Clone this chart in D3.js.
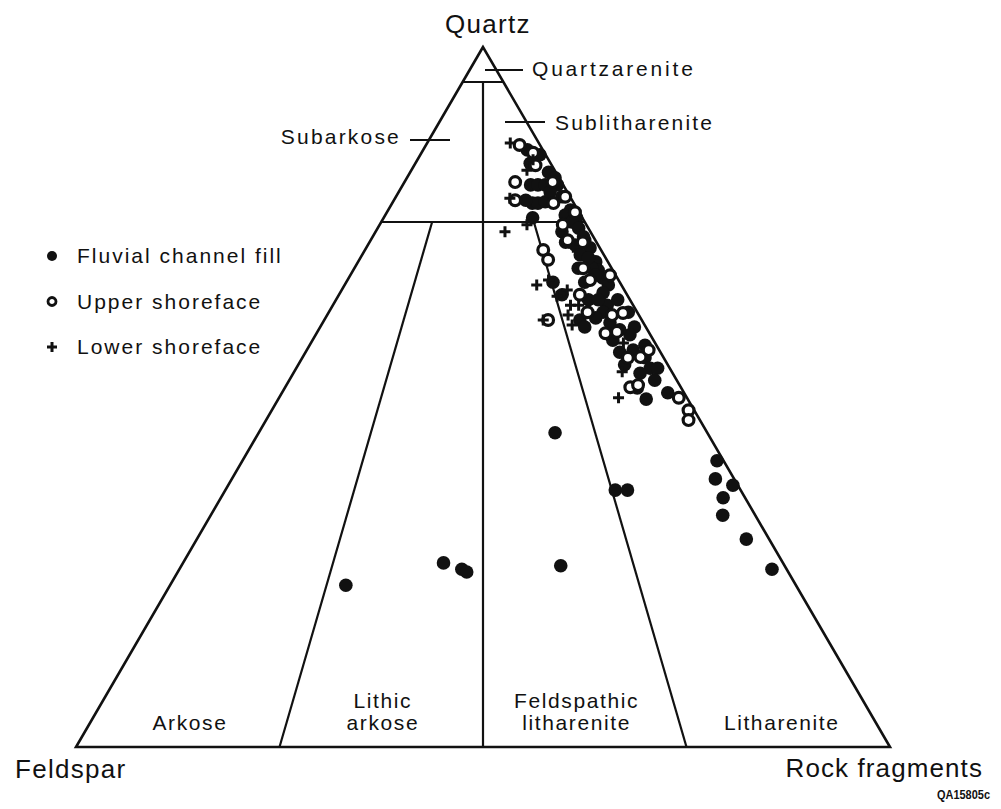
<!DOCTYPE html>
<html>
<head>
<meta charset="utf-8">
<script src="https://cdn.jsdelivr.net/npm/d3@7"></script>
<style>
body{margin:0;background:#fff;}
svg text{font-family:"Liberation Sans",Arial,Helvetica,sans-serif;fill:#111;}
</style>
</head>
<body>
<div id="canvas"></div>
<script>
// end members and legend entries
var corners = ['Quartz', 'Feldspar', 'Rock fragments'];
var seriesNames = ['Fluvial channel fill', 'Upper shoreface', 'Lower shoreface'];

// sample compositions, [Q, F, R] in percent
var fluvial = [
  [23.1,55.3,21.6],[26.3,41.7,32.0],[25.4,39.9,34.7],[25.0,39.5,35.5],[25.9,27.5,46.6],
  [44.9,18.7,36.4],[36.7,15.4,47.9],[36.7,13.9,49.4],[49.7,5.1,45.2],[50.6,2.0,47.4],
  [40.9,0.8,58.3],[38.3,2.3,59.4],[37.4,0.6,62.0],[35.6,2.7,61.7],[33.1,4.0,62.9],
  [29.7,2.8,67.5],[25.4,1.8,72.8],
  [85.3,1.9,12.8],[84.6,0.7,14.7],[83.4,2.5,14.1],[82.1,0.9,17.0],[80.3,4.0,15.7],
  [80.3,3.1,16.6],[80.3,2.2,17.5],[80.3,0.7,19.0],[81.3,0.5,18.2],[77.7,5.1,17.2],
  [77.7,4.4,17.9],[77.9,3.4,18.7],[78.6,1.0,20.4],[76.7,0.9,22.4],[75.6,0.7,23.7],
  [75.6,6.1,18.3],[76.0,1.9,22.1],[75.0,1.6,23.4],[74.1,1.2,24.7],[72.4,1.3,26.3],
  [71.3,1.2,27.5],[69.3,1.5,29.2],[68.1,1.8,30.1],[67.0,1.8,31.2],[66.0,1.6,32.4],
  [73.6,3.5,22.9],[72.9,1.2,25.9],[72.1,3.8,24.1],[68.4,4.1,27.5],[68.4,2.4,29.2],
  [67.4,2.5,30.1],[66.4,8.2,25.4],[64.6,8.0,27.4],[64.9,2.8,32.3],[63.1,3.2,33.7],
  [61.0,7.6,31.4],[60.0,7.5,32.5],[62.1,4.2,33.7],[60.6,4.1,35.3],[60.0,1.4,38.6],
  [56.4,5.0,38.6],[56.7,3.2,40.1],[55.6,2.3,42.1],[54.1,2.4,43.5],[54.6,5.3,40.1],
  [54.1,1.5,44.4],[51.3,5.4,43.3],[62.1,1.1,36.8],[58.9,2.5,38.6],[58.1,5.0,36.9],
  [63.9,5.1,31.0],[63.9,1.5,34.6],[53.4,4.0,42.6],[52.4,2.7,44.9],
  [71.7,2.8,25.5],[70.3,2.9,26.8],[69.9,2.1,28.0],[66.4,4.3,29.3],[63.9,3.9,32.2],
  [61.3,5.5,33.2],[59.6,3.4,37.0],[57.4,1.4,41.2],[79.3,2.1,18.6],[78.1,5.7,16.2]
];
var upper = [
  [86.0,2.5,11.5],[84.9,1.4,13.7],[83.1,2.0,14.9],[80.7,5.7,13.6],[80.7,1.1,18.2],
  [78.1,7.0,14.9],[77.7,2.5,19.8],[78.6,0.6,20.8],[76.4,0.5,23.1],[72.4,3.4,24.2],
  [72.1,1.7,26.2],[71.0,7.1,21.9],[69.6,7.2,23.2],[68.4,3.5,28.1],[67.4,0.7,31.9],
  [64.6,5.8,29.6],[61.7,3.3,35.0],[61.0,11.5,27.5],[62.1,6.1,31.8],[59.1,5.4,35.5],
  [62.0,1.8,36.2],[55.6,4.4,40.0],[55.7,2.8,41.5],[56.7,1.3,42.0],[51.4,6.2,42.4],
  [51.7,5.1,43.2],[49.9,1.0,49.1],[48.1,0.7,51.2],[46.7,1.4,51.9],[74.6,2.9,22.5],
  [66.7,3.5,29.8],[59.3,3.9,36.8]
];
var lower = [
  [86.3,3.5,10.2],[82.4,3.4,14.2],[83.9,1.9,14.2],[78.4,7.5,14.1],[73.6,10.5,15.9],
  [74.6,7.3,18.1],[66.0,10.4,23.6],[66.7,8.6,24.7],[65.3,7.0,27.7],[63.1,7.7,29.2],
  [61.0,12.1,26.9],[61.7,8.7,29.6],[60.3,8.9,30.8],[57.7,3.9,38.4],[53.6,6.1,40.3],
  [49.9,8.4,41.7],[71.4,3.2,25.4],[64.4,8.7,26.9],[63.1,6.7,30.2]
];

// Folk (1974) field boundaries, [Q, F, R] end points
var boundaries = [
  [[95,5,0],[95,0,5]],
  [[75,25,0],[75,0,25]],
  [[95,2.5,2.5],[0,50,50]],
  [[75,18.75,6.25],[0,75,25]],
  [[75,6.25,18.75],[0,25,75]]
];
var fieldNames = [['Arkose'], ['Lithic', 'arkose'], ['Feldspathic', 'litharenite'], ['Litharenite']];
var fieldAnchors = [[8,82,10], [8,58.3,33.7], [8,34.5,57.5], [8,9.3,82.7]];

var W = 1001, H = 809;
var svg = d3.select('#canvas').append('svg')
    .attr('width', W).attr('height', H);

var x = d3.scaleLinear().domain([0, 100]).range([76, 890]);
var y = d3.scaleLinear().domain([0, 100]).range([747, 47]);

function proj(d){ return [x(d[2] + d[0] / 2), y(d[0])]; }

var line = d3.line();

// outer triangle
svg.append('path')
    .attr('d', line([[100,0,0],[0,100,0],[0,0,100]].map(proj)) + 'Z')
    .style('fill', 'none').style('stroke', '#111')
    .style('stroke-width', 2.6).style('stroke-linejoin', 'miter');

svg.selectAll('.bound')
    .data(boundaries).enter()
    .append('path').attr('class', 'bound')
    .attr('d', function(d){ return line(d.map(proj)); })
    .style('fill', 'none').style('stroke', '#111').style('stroke-width', 2.2);

// field names at the base
fieldNames.forEach(function(lines, i){
  var p = proj(fieldAnchors[i]);
  var t = svg.append('text')
      .attr('text-anchor', 'middle')
      .style('font-size', '21px').style('letter-spacing', '1.6px');
  lines.forEach(function(s, j){
    t.append('tspan').attr('x', p[0])
      .attr('y', y(2.5) - (lines.length - 1 - j) * 22)
      .text(s);
  });
});

// upper field labels with leader lines
var leaders = [
  {name:'Quartzarenite', x1:485, x2:523, ly:70, tx:532, ty:76, anchor:'start', ls:2.8},
  {name:'Sublitharenite', x1:505, x2:545, ly:122, tx:555, ty:130, anchor:'start', ls:2.2},
  {name:'Subarkose', x1:410, x2:450, ly:140, tx:401, ty:144, anchor:'end', ls:2.2}
];
leaders.forEach(function(l){
  svg.append('line').attr('x1', l.x1).attr('x2', l.x2).attr('y1', l.ly).attr('y2', l.ly)
      .style('stroke', '#111').style('stroke-width', 2);
  svg.append('text').attr('x', l.tx).attr('y', l.ty).attr('text-anchor', l.anchor)
      .style('font-size', '21px').style('letter-spacing', l.ls + 'px')
      .text(l.name);
});

// corner labels
svg.append('text').attr('x', 488).attr('y', 33).attr('text-anchor', 'middle')
    .style('font-size', '26px').style('letter-spacing', '1.3px').text(corners[0]);
svg.append('text').attr('x', 15).attr('y', 778).attr('text-anchor', 'start')
    .style('font-size', '26px').style('letter-spacing', '1.3px').text(corners[1]);
svg.append('text').attr('x', 983).attr('y', 777).attr('text-anchor', 'end')
    .style('font-size', '26px').style('letter-spacing', '1.1px').text(corners[2]);
svg.append('text').attr('x', 990).attr('y', 799).attr('text-anchor', 'end')
    .style('font-size', '12px').style('font-weight', 'bold')
    .attr('textLength', 53).attr('lengthAdjust', 'spacingAndGlyphs')
    .text('QA15805c');

// markers
function dot(g, r){ g.append('circle').attr('r', r).style('fill', '#111'); }
function ring(g, r, sw){ g.append('circle').attr('r', r).style('fill', '#fff')
    .style('stroke', '#111').style('stroke-width', sw); }
function plus(g, s){
  g.append('path').attr('d', 'M' + (-s) + ',0H' + s + 'M0,' + (-s) + 'V' + s)
    .style('stroke', '#111').style('stroke-width', 3).style('fill', 'none');
}

var pts = svg.append('g').attr('class', 'points');
pts.selectAll('.fluvial').data(fluvial).enter().append('g').attr('class', 'fluvial')
    .attr('transform', function(d){ return 'translate(' + proj(d) + ')'; })
    .each(function(){ dot(d3.select(this), 6.8); });
pts.selectAll('.upper').data(upper).enter().append('g').attr('class', 'upper')
    .attr('transform', function(d){ return 'translate(' + proj(d) + ')'; })
    .each(function(){ ring(d3.select(this), 5.4, 3.2); });
pts.selectAll('.lower').data(lower).enter().append('g').attr('class', 'lower')
    .attr('transform', function(d){ return 'translate(' + proj(d) + ')'; })
    .each(function(){ plus(d3.select(this), 5.5); });

// legend
var legend = svg.append('g').attr('class', 'legend');
seriesNames.forEach(function(s, i){
  var g = legend.append('g').attr('transform', 'translate(52,' + (256 + i * 45.5) + ')');
  if (i === 0) dot(g, 5);
  if (i === 1) ring(g, 4, 2.8);
  if (i === 2) plus(g, 5);
  legend.append('text').attr('x', 77).attr('y', 263 + i * 45.5)
      .style('font-size', '21px').style('letter-spacing', '2px').text(s);
});
</script>
</body>
</html>
